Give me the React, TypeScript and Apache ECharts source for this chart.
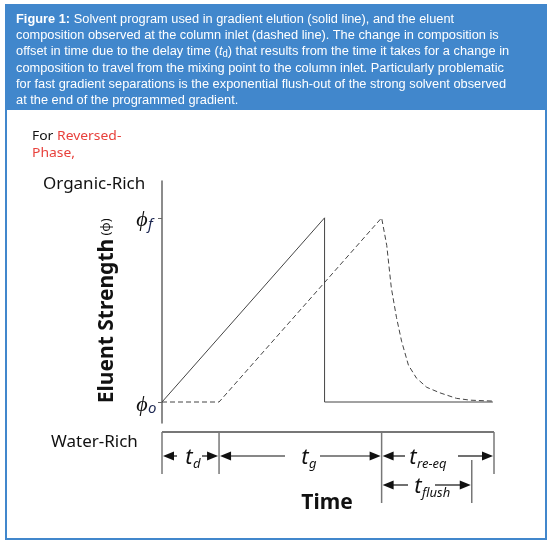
import React, { useEffect, useRef } from "react";
import * as echarts from "echarts";

// ---- data ----
const solidTime = [0, 2.85, 2.85, 5.8];
const solidPhi = [0, 1, 0, 0];
const dashedTime = [0, 1, 3.85, 3.94, 4.02, 4.11, 4.2, 4.32, 4.46, 4.64, 4.87, 5.16, 5.4, 5.8];
const dashedPhi = [0, 0, 1, 0.85, 0.62, 0.46, 0.33, 0.2, 0.13, 0.08, 0.05, 0.02, 0.01, 0.005];
const phiTicks = [0, 1];
const phiTickSubs = ["o", "f"];
const bracketBounds = [0, 1, 3.85, 5.82];
const bracketSubs = ["d", "g", "re-eq"];
const flushEnd = 5.43;
const headerLines = [
  "{b|Figure 1:} Solvent program used in gradient elution (solid line), and the eluent",
  "composition observed at the column inlet (dashed line). The change in composition is",
  "offset in time due to the delay time ({i|t}{s|d}) that results from the time it takes for a change in",
  "composition to travel from the mixing point to the column inlet. Particularly problematic",
  "for fast gradient separations is the exponential flush-out of the strong solvent observed",
  "at the end of the programmed gradient.",
];

const BLUE = "#4187cc";
const LINE = "#444";

export default function App() {
  const ref = useRef<HTMLDivElement>(null);
  useEffect(() => {
    const chart = echarts.init(ref.current!, undefined, { renderer: "svg" });
    chart.setOption({
      animation: false,
      grid: { left: 162, right: 57, top: 181, bottom: 122 },
      xAxis: { type: "value", min: 0, max: 5.82, show: false },
      yAxis: {
        type: "value",
        min: -0.114,
        max: 1.2,
        splitLine: { show: false },
        axisLine: { show: true, lineStyle: { color: "#666", width: 1.5 } },
        axisTick: { show: true, customValues: phiTicks, length: 4, lineStyle: { color: "#666" } },
        axisLabel: { show: false },
      },
      series: [
        {
          type: "line",
          data: solidTime.map((t, i) => [t, solidPhi[i]]),
          showSymbol: false,
          lineStyle: { color: LINE, width: 1 },
        },
        {
          type: "line",
          data: dashedTime.map((t, i) => [t, dashedPhi[i]]),
          showSymbol: false,
          lineStyle: { color: LINE, width: 1, type: [5, 3] },
        },
      ],
    });

    const px = (t: number) => chart.convertToPixel({ xAxisIndex: 0 }, t) as number;
    const py = (v: number) => chart.convertToPixel({ yAxisIndex: 0 }, v) as number;
    const x0 = px(0);

    const g: any[] = [];
    // frame
    g.push({ type: "rect", shape: { x: 6, y: 5, width: 540, height: 534 }, style: { fill: "#fff", stroke: BLUE, lineWidth: 2 }, z: -10 });
    g.push({ type: "rect", shape: { x: 5, y: 4, width: 542, height: 106 }, style: { fill: BLUE }, z: -9 });
    headerLines.forEach((l, i) => {
      g.push({
        type: "text",
        x: 16,
        y: 18 + i * 16.3,
        scaleX: 0.95,
        style: {
          text: l,
          fill: "#fff",
          fontSize: 13.5,
          fontFamily: "Liberation Sans",
          verticalAlign: "middle",
          rich: {
            b: { fontWeight: "bold", fontSize: 13.5, fill: "#fff", fontFamily: "Liberation Sans" },
            i: { fontStyle: "italic", fontSize: 13.5, fill: "#fff", fontFamily: "Liberation Sans" },
            s: { fontSize: 10, fill: "#fff", fontFamily: "Liberation Sans", padding: [6, 0, 0, 0] },
          },
        },
      });
    });
    const sans = "Noto Sans";
    g.push({
      type: "text", x: 32, y: 135, scaleX: 1.07,
      style: {
        text: "For {r|Reversed-}",
        fontSize: 13, fontFamily: sans, fill: "#111", verticalAlign: "middle",
        rich: { r: { fill: "#e8413c", fontSize: 13, fontFamily: sans } },
      },
    });
    g.push({ type: "text", x: 32, y: 152, scaleX: 1.07, style: { text: "Phase,", fontSize: 13, fontFamily: sans, fill: "#e8413c", verticalAlign: "middle" } });
    g.push({ type: "text", x: 43, y: 182, style: { text: "Organic-Rich", fontSize: 17, fontFamily: sans, fill: "#111", verticalAlign: "middle" } });
    g.push({ type: "text", x: 51, y: 440, style: { text: "Water-Rich", fontSize: 17, fontFamily: sans, fill: "#111", verticalAlign: "middle" } });
    g.push({ type: "text", x: 105, y: 321, rotation: Math.PI / 2, style: { text: "Eluent Strength", fontSize: 21, fontWeight: "bold", fontFamily: sans, fill: "#111", align: "center", verticalAlign: "middle" } });
    g.push({ type: "text", x: 105, y: 227, rotation: Math.PI / 2, style: { text: "(ϕ)", fontSize: 13, fontFamily: sans, fill: "#111", align: "center", verticalAlign: "middle" } });
    g.push({ type: "text", x: 327, y: 501, style: { text: "Time", fontSize: 21, fontWeight: "bold", fontFamily: sans, fill: "#111", align: "center", verticalAlign: "middle" } });

    // phi tick labels
    phiTicks.forEach((v, i) => {
      const y = py(v);
      g.push({ type: "text", x: x0 - 20, y: y + 1, style: { text: "ϕ", fontSize: 22, fontStyle: "italic", fontFamily: "Liberation Serif", fill: "#111", align: "center", verticalAlign: "middle" } });
      g.push({ type: "text", x: x0 - 14, y: y + 5, style: { text: phiTickSubs[i], fontSize: 15, fontStyle: "italic", fontFamily: sans, fill: "#1a2550", align: "left", verticalAlign: "middle" } });
    });

    // time brackets
    const barY = 432;
    const row1 = 456;
    const row2 = 485;
    const xb = bracketBounds.map(px);
    const xf = px(flushEnd);
    const gray = "#777";
    g.push({ type: "line", shape: { x1: xb[0], y1: barY, x2: xb[3], y2: barY }, style: { stroke: gray, lineWidth: 2 } });
    const vline = (x: number, y1: number, y2: number) =>
      g.push({ type: "line", shape: { x1: x, y1, x2: x, y2 }, style: { stroke: gray, lineWidth: 1.5 } });
    vline(xb[0], barY, 474);
    vline(xb[1], barY, 474);
    vline(xb[2], barY, 503);
    vline(xb[3], barY, 474);
    vline(xf, 460, 503);
    const arrow = (tip: number, y: number, dir: number) =>
      g.push({ type: "polygon", shape: { points: [[tip, y], [tip + dir * 11, y - 4.5], [tip + dir * 11, y + 4.5]] }, style: { fill: "#111" } });
    const hl = (a: number, b: number, y: number) =>
      g.push({ type: "line", shape: { x1: a, y1: y, x2: b, y2: y }, style: { stroke: "#111", lineWidth: 1.2 } });
    const tLabel = (x: number, y: number, sub: string) => {
      g.push({ type: "text", x, y, style: { text: "t", fontSize: 22, fontStyle: "italic", fontFamily: sans, fill: "#111", align: "center", verticalAlign: "middle" } });
      g.push({ type: "text", x: x + 4, y: y + 8, style: { text: sub, fontSize: 13, fontStyle: "italic", fontFamily: sans, fill: "#111", align: "left", verticalAlign: "middle" } });
    };
    const segs = [
      { a: xb[0], b: xb[1], y: row1, lx: 189, gl: 177, gr: 202, sub: bracketSubs[0] },
      { a: xb[1], b: xb[2], y: row1, lx: 305, gl: 285, gr: 320, sub: bracketSubs[1] },
      { a: xb[2], b: xb[3], y: row1, lx: 413, gl: 405, gr: 458, sub: bracketSubs[2] },
      { a: xb[2], b: xf, y: row2, lx: 418, gl: 408, gr: 435, sub: "flush" },
    ];
    segs.forEach((s) => {
      arrow(s.a + 1, s.y, 1);
      arrow(s.b - 1, s.y, -1);
      hl(s.a + 10, s.gl, s.y);
      hl(s.gr, s.b - 10, s.y);
      tLabel(s.lx, s.y - 1, s.sub);
    });

    chart.setOption({ graphic: g });
    return () => chart.dispose();
  }, []);
  return <div ref={ref} style={{ position: "fixed", left: 0, top: 0, width: 551, height: 545 }} />;
}
